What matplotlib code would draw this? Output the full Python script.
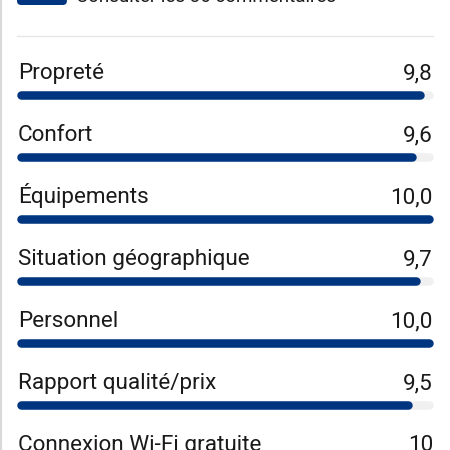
import matplotlib.pyplot as plt
from matplotlib.patches import FancyBboxPatch

# review categories and scores (out of 10)
categories = ["Propreté", "Confort", "Équipements", "Situation géographique",
              "Personnel", "Rapport qualité/prix", "Connexion Wi-Fi gratuite"]
scores = [9.8, 9.6, 10.0, 9.7, 10.0, 9.5, 10.0]
score_labels = ["9,8", "9,6", "10,0", "9,7", "10,0", "9,5", "10"]

blue = "#003580"
track = "#f0f0f0"
text_col = "#1a1a1a"

plt.rcParams['font.family'] = ['Roboto', 'DejaVu Sans']

fig = plt.figure(figsize=(4.5, 4.5), dpi=100)
ax = fig.add_axes([0, 0, 1, 1])
# x in score units: 0 -> 17px, 10 -> 433px ; y in pixels from top
px = 41.6
ax.set_xlim(-17 / px, (450 - 17) / px)
ax.set_ylim(450, 0)
ax.axis('off')

row_gap = 62
label_y = 79
bar_y = 95
bar_h = 8.5
r = (bar_h / 2) / px

for i, (cat, val, lab) in enumerate(zip(categories, scores, score_labels)):
    ly = label_y + i * row_gap
    by = bar_y + i * row_gap
    ax.text(0.02, ly, cat, fontsize=16.2, color=text_col, ha='left', va='baseline')
    ax.text(10, ly, lab, fontsize=16.2, color=text_col, ha='right', va='baseline')
    ax.plot([r, 10 - r], [by, by], color=track, lw=bar_h * 0.72,
            solid_capstyle='round')
    ax.plot([r, val - r], [by, by], color=blue, lw=bar_h * 0.72,
            solid_capstyle='round')

# header: cut-off button and link, separator line
ax.add_patch(FancyBboxPatch((0, -20), 1.2, 25, boxstyle="round,pad=0,rounding_size=0.1",
                            mutation_aspect=41.6, color=blue, lw=0))
ax.text(1.42, 2.5, "Consulter les 86 commentaires", fontsize=13.5, color=text_col,
        ha='left', va='baseline')
ax.plot([0, 10], [36, 36], color="#e6e6e6", lw=1)
# left border
ax.plot([-16 / px, -16 / px], [0, 450], color="#d9d9d9", lw=1.5)

fig.savefig("out.png", dpi=100)
